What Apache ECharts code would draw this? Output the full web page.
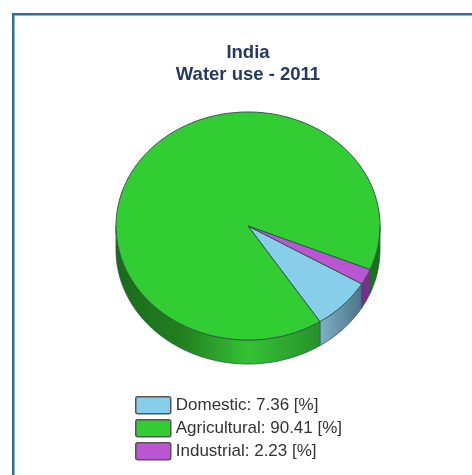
<!DOCTYPE html>
<html>
<head>
<meta charset="utf-8">
<style>html,body{margin:0;padding:0;background:#fff}#c{width:472px;height:475px}</style>
<script src="https://cdn.jsdelivr.net/npm/echarts@6/dist/echarts.min.js"></script>
</head>
<body>
<div id="c"></div>
<script>
const categories = ['Domestic', 'Agricultural', 'Industrial'];
const values = [7.36, 90.41, 2.23];
const colors = ['#87CEEB', '#32CD32', '#BA55D3'];
const unit = '[%]';
const titleLines = ['India', 'Water use - 2011'];

const CX = 248, CY = 226, RX = 132, RY = 114, DEPTH = 24, START_DEG = 30.5;
const total = values.reduce((a, b) => a + b, 0);
const EDGE = '#2f5a48';

const wallFills = [
  { type: 'linear', global: true, x: 320, y: 0, x2: 362, y2: 0,
    colorStops: [{ offset: 0, color: '#7fb0c8' }, { offset: 1, color: '#4d7389' }] },
  { type: 'linear', global: true, x: 116, y: 0, x2: 380, y2: 0,
    colorStops: [
      { offset: 0, color: '#1a6a1a' }, { offset: 0.25, color: '#22801f' },
      { offset: 0.5, color: '#34c234' }, { offset: 0.78, color: '#26902a' },
      { offset: 1, color: '#1c6e1c' }] },
  '#76308c'
];

function pt(deg, dy) {
  const r = deg * Math.PI / 180;
  return [CX + RX * Math.cos(r), CY + RY * Math.sin(r) + (dy || 0)];
}
function arc(a, b, dy) {
  const pts = [];
  const n = Math.max(2, Math.ceil(Math.abs(b - a)));
  for (let i = 0; i <= n; i++) pts.push(pt(a + (b - a) * i / n, dy));
  return pts;
}
function wall(a, b, fill) {
  return {
    type: 'polygon',
    shape: { points: arc(a, b, 0).concat(arc(a, b, DEPTH).reverse()) },
    style: { fill: fill, stroke: EDGE, lineWidth: 0.8 }
  };
}
function renderSlice(idx) {
  return function (params, api) {
    const before = values.slice(0, idx).reduce((a, b) => a + b, 0);
    const a = START_DEG + before / total * 360;
    const b = a + api.value(0) / total * 360;
    const children = [];
    // the side wall is visible only on the front half of the ellipse (0..180, 360..540)
    for (const [lo, hi] of [[0, 180], [360, 540]]) {
      const s = Math.max(a, lo), e = Math.min(b, hi);
      if (e > s) children.push(wall(s, e, wallFills[idx]));
    }
    children.push({
      type: 'polygon',
      shape: { points: [[CX, CY]].concat(arc(a, b, 0)) },
      style: { fill: colors[idx], stroke: EDGE, lineWidth: 1, lineJoin: 'round' }
    });
    return { type: 'group', children: children };
  };
}

const chart = echarts.init(document.getElementById('c'), null, { renderer: 'canvas' });
chart.setOption({
  animation: false,
  backgroundColor: '#fff',
  title: {
    text: titleLines.join('\n'),
    left: 248, top: 42, textAlign: 'center', padding: 0,
    textStyle: { fontFamily: 'Liberation Sans', fontSize: 18.5, fontWeight: 'bold', color: '#253a63', lineHeight: 22 }
  },
  legend: {
    orient: 'vertical', left: 135, top: 396, padding: 0, itemGap: 4.5,
    itemWidth: 35, itemHeight: 17,
    icon: 'path://M2,0H33Q35,0 35,2V15Q35,17 33,17H2Q0,17 0,15V2Q0,0 2,0Z',
    selectedMode: false,
    data: categories,
    itemStyle: { borderColor: '#555', borderWidth: 1.5 },
    textStyle: { fontFamily: 'Liberation Sans', fontSize: 17, color: '#333', padding: [0, 0, 0, 0] },
    formatter: name => name + ': ' + values[categories.indexOf(name)].toFixed(2) + ' ' + unit
  },
  graphic: [
    { type: 'rect', shape: { x: 12, y: 13, width: 460, height: 2.5 }, style: { fill: '#2f7096' }, silent: true },
    { type: 'rect', shape: { x: 12, y: 13, width: 2.5, height: 462 }, style: { fill: '#2f7096' }, silent: true }
  ],
  series: categories.map((name, i) => ({
    type: 'custom',
    name: name,
    coordinateSystem: 'none',
    silent: true,
    itemStyle: { color: colors[i] },
    data: [[values[i]]],
    encode: { value: 0 },
    renderItem: renderSlice(i)
  }))
});
</script>
</body>
</html>
